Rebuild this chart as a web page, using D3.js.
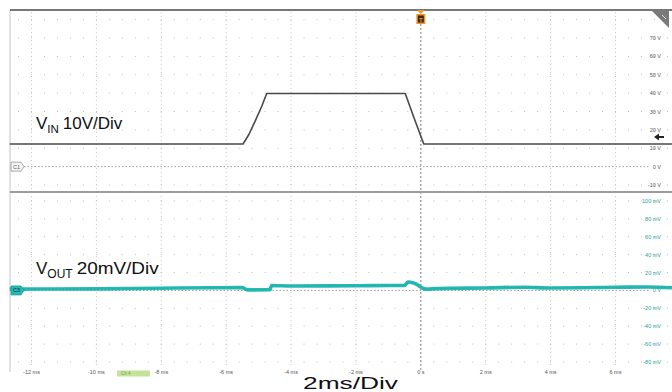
<!DOCTYPE html>
<html><head><meta charset="utf-8">
<script src="https://cdn.jsdelivr.net/npm/d3@7"></script>
<style>body{margin:0;background:#fff}svg{display:block}</style>
</head><body><div id="chart"></div>
<script>
// ---- data ----
const timeTicks = [-12,-10,-8,-6,-4,-2,0,2,4,6];
const timeTickLabels = ["-12 ms","-10 ms","-8 ms","-6 ms","-4 ms","-2 ms","0 s","2 ms","4 ms","6 ms"];
const vinTicks = [70,60,50,40,30,20,10,0,-10];
const vinTickLabels = ["70 V","60 V","50 V","40 V","30 V","20 V","10 V","0 V","-10 V"];
const voutTicks = [100,80,60,40,20,0,-20,-40,-60,-80];
const voutTickLabels = ["100 mV","80 mV","60 mV","40 mV","20 mV","0 V","-20 mV","-40 mV","-60 mV","-80 mV"];
const vinTime  = [-12.67,-5.48,-5.3,-5.1,-4.9,-4.75,-0.48,-0.2,0.09,7.74];
const vinVolts = [12.3,12.3,17.5,25,33,39.8,39.8,26,12.3,12.3];
const voutTime = [-12.67,-10,-8,-6.5,-5.5,-5.35,-4.65,-4.6,-4,-2,-1,-0.5,-0.4,-0.2,0.15,0.5,2,3.2,4,6,7,7.74];
const voutMilliVolts = [1.5,1.8,2.5,3.0,3.1,0.6,0.7,5.6,5.0,5.2,5.6,5.6,9.5,8.0,1.5,2.0,2.8,3.6,2.8,3.5,3.9,3.0];

const W = 672, H = 392;
const svg = d3.select("#chart").append("svg").attr("width", W).attr("height", H);
const x = d3.scaleLinear().domain([-12, 6]).range([31.5, 615.5]);
const yV = d3.scaleLinear().domain([-10, 70]).range([185, 38]);
const yM = d3.scaleLinear().domain([-80, 100]).range([362, 201]);
const left = 10, right = 672;
const subTimes = d3.range(-12.4, 7.8, 0.4).filter(t => x(t) > left + 2 && x(t) < right - 2);

// grid: vertical major dotted lines
const g = svg.append("g");
timeTicks.forEach(t => {
  g.append("line").attr("x1", x(t)).attr("x2", x(t)).attr("y1", 12).attr("y2", 368)
    .attr("stroke", "#c8c8c8").attr("stroke-width", 1).attr("stroke-dasharray", "1,3");
});
// horizontal dot rows
const rowsY = [yV(80)].concat(vinTicks.filter(v => v !== 0).map(v => yV(v)))
  .concat(voutTicks.filter(v => v !== 0).map(v => yM(v)));
rowsY.forEach(yy => {
  subTimes.forEach(t => {
    g.append("rect").attr("x", x(t) - 0.5).attr("y", yy - 0.5).attr("width", 1).attr("height", 1).attr("fill", "#bdbdbd");
  });
});
// zero reference lines
g.append("line").attr("x1", 24).attr("x2", 650).attr("y1", yV(0)).attr("y2", yV(0))
  .attr("stroke", "#9a9a9a").attr("stroke-dasharray", "1.5,2").attr("stroke-width", 1);
g.append("line").attr("x1", 24).attr("x2", 650).attr("y1", yM(0)).attr("y2", yM(0))
  .attr("stroke", "#9a9a9a").attr("stroke-dasharray", "1.5,2").attr("stroke-width", 1);
// trigger line
g.append("line").attr("x1", x(0)).attr("x2", x(0)).attr("y1", 24).attr("y2", 372)
  .attr("stroke", "#8a8a8a").attr("stroke-dasharray", "2,2").attr("stroke-width", 1);

// borders
svg.append("line").attr("x1", left).attr("x2", left).attr("y1", 10).attr("y2", 372).attr("stroke", "#c4c4c4").attr("stroke-width", 1);
svg.append("line").attr("x1", left).attr("x2", right).attr("y1", 10).attr("y2", 10).attr("stroke", "#4a4a4a").attr("stroke-width", 1.5);
svg.append("line").attr("x1", left).attr("x2", right).attr("y1", 192).attr("y2", 192).attr("stroke", "#9c9c9c").attr("stroke-width", 2);

// right axis labels
const fontSmall = "Liberation Sans, Arial, sans-serif";
svg.append("g").selectAll("text").data(vinTicks).join("text")
  .attr("x", 661).attr("y", d => yV(d) + 2).attr("text-anchor", "end")
  .attr("font-family", fontSmall).attr("font-size", 5.5).attr("fill", "#555")
  .text((d, i) => vinTickLabels[i]);
svg.append("g").selectAll("text").data(voutTicks).join("text")
  .attr("x", 661).attr("y", d => yM(d) + 2).attr("text-anchor", "end")
  .attr("font-family", fontSmall).attr("font-size", 5.5).attr("fill", "#1c9e9a")
  .text((d, i) => voutTickLabels[i]);
// time labels
svg.append("g").selectAll("text").data(timeTicks).join("text")
  .attr("x", d => x(d)).attr("y", 373.5).attr("text-anchor", "middle")
  .attr("font-family", fontSmall).attr("font-size", 5.5).attr("fill", "#555")
  .text((d, i) => timeTickLabels[i]);

// traces
const lineV = d3.line().x((d, i) => x(vinTime[i])).y(d => yV(d));
svg.append("path").datum(vinVolts).attr("d", lineV).attr("fill", "none")
  .attr("stroke", "#4a4a4a").attr("stroke-width", 1.6).attr("stroke-linejoin", "round");
const lineM = d3.line().x((d, i) => x(voutTime[i])).y(d => yM(d)).curve(d3.curveMonotoneX);
svg.append("path").datum(voutMilliVolts).attr("d", lineM).attr("fill", "none")
  .attr("stroke", "#27bab5").attr("stroke-width", 3.6).attr("stroke-linejoin", "round");
svg.append("path").datum(voutMilliVolts).attr("d", lineM).attr("fill", "none")
  .attr("stroke", "#1a9f9b").attr("stroke-width", 0.8).attr("stroke-dasharray", "2,1.5").attr("opacity", 0.7);

// channel markers
const c1y = yV(0), c3y = yM(0);
svg.append("path").attr("d", `M11,${c1y-4.5}H21L24,${c1y}L21,${c1y+4.5}H11Z`).attr("fill", "#f4f4f4").attr("stroke", "#999").attr("stroke-width", 0.8);
svg.append("text").attr("x", 16.5).attr("y", c1y + 2).attr("text-anchor", "middle").attr("font-family", fontSmall).attr("font-size", 5.5).attr("fill", "#666").text("C1");
svg.append("path").attr("d", `M11,${c3y-4.5}H21L24,${c3y}L21,${c3y+4.5}H11Z`).attr("fill", "#27bab5").attr("stroke", "#1a9f9b").attr("stroke-width", 0.8);
svg.append("text").attr("x", 16.5).attr("y", c3y + 2).attr("text-anchor", "middle").attr("font-family", fontSmall).attr("font-size", 5.5).attr("fill", "#124").text("C3");

// trigger marker
const tx = x(0);
svg.append("path").attr("d", `M${tx-4},10H${tx+4}L${tx},14Z`).attr("fill", "#f0962a");
svg.append("rect").attr("x", tx - 4.5).attr("y", 14).attr("width", 9).attr("height", 10).attr("fill", "#f0962a");
svg.append("rect").attr("x", tx - 3).attr("y", 15.5).attr("width", 6).attr("height", 7).attr("fill", "#3a2a1a");
svg.append("text").attr("x", tx).attr("y", 21.5).attr("text-anchor", "middle").attr("font-family", fontSmall).attr("font-size", 6).attr("font-weight", "bold").attr("fill", "#f0962a").text("T");

// top-right icon
svg.append("path").attr("d", "M652,11H669V28Z").attr("fill", "#7a7a7a");
svg.append("path").attr("d", "M662,15L666,19").attr("stroke", "#ddd").attr("stroke-width", 1);
// trigger level arrow
svg.append("path").attr("d", "M654,137L659,133.5V136H664V138H659V140.5Z").attr("fill", "#222");

// small green label box
svg.append("rect").attr("x", 117).attr("y", 370.5).attr("width", 33).attr("height", 6).attr("fill", "#c3e39a");
svg.append("text").attr("x", 121).attr("y", 375).attr("font-family", fontSmall).attr("font-size", 4.5).attr("fill", "#7aa55a").text("Ch 4");

// big labels
const fontBig = "Liberation Sans, Arial, sans-serif";
const t1 = svg.append("text").attr("x", 36).attr("y", 128.5).attr("font-family", fontBig).attr("font-size", 17).attr("fill", "#111");
t1.append("tspan").text("V");
t1.append("tspan").attr("font-size", 11.5).attr("dy", 4).text("IN");
t1.append("tspan").attr("dy", -4).attr("dx", 4).text("10V/Div");
const t2 = svg.append("text").attr("x", 36).attr("y", 273.5).attr("font-family", fontBig).attr("font-size", 17).attr("fill", "#111");
t2.append("tspan").text("V");
t2.append("tspan").attr("font-size", 12).attr("dy", 4).text("OUT");
t2.append("tspan").attr("dy", -4).attr("dx", 4).attr("textLength", 82).attr("lengthAdjust", "spacingAndGlyphs").text("20mV/Div");
svg.append("text").attr("x", 303).attr("y", 389).attr("font-family", fontBig).attr("font-size", 16.5)
  .attr("textLength", 95).attr("lengthAdjust", "spacingAndGlyphs").attr("fill", "#111").text("2ms/Div");
</script></body></html>
